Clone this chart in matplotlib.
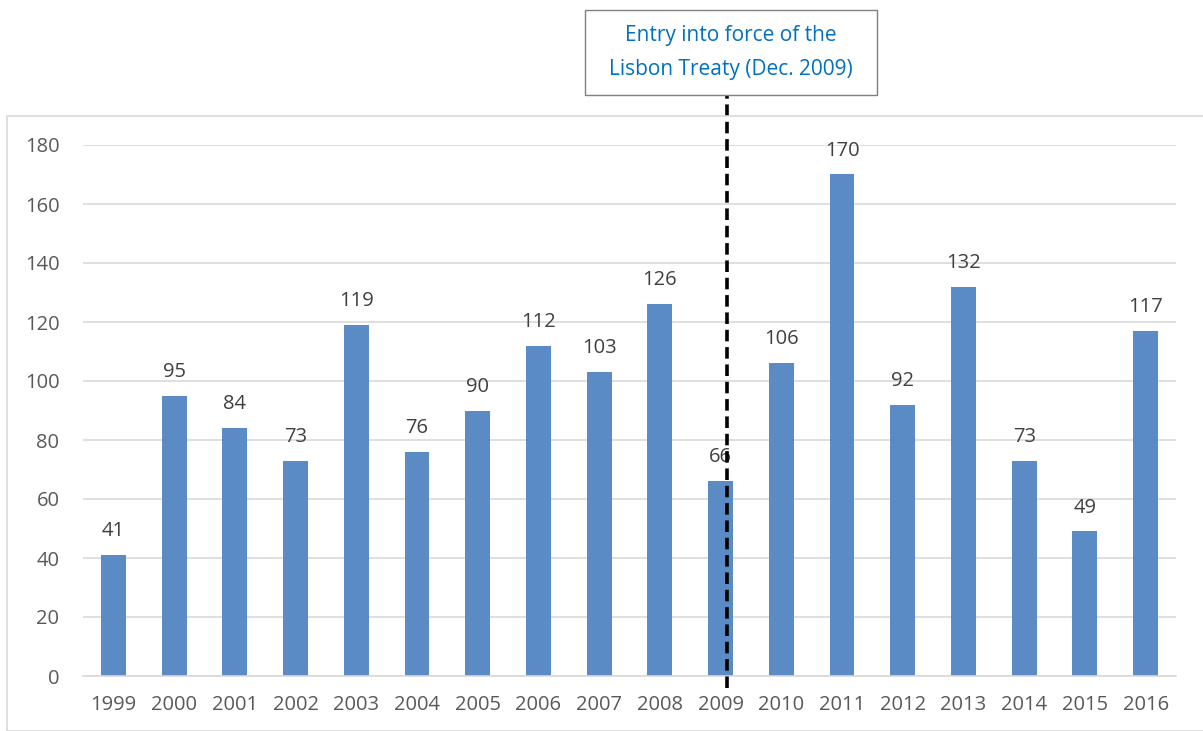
import matplotlib
matplotlib.use("Agg")
import matplotlib.pyplot as plt
from matplotlib.patches import Rectangle

years = ["1999", "2000", "2001", "2002", "2003", "2004", "2005", "2006", "2007",
         "2008", "2009", "2010", "2011", "2012", "2013", "2014", "2015", "2016"]
values = [41, 95, 84, 73, 119, 76, 90, 112, 103, 126, 66, 106, 170, 92, 132, 73, 49, 117]
yticks = [0, 20, 40, 60, 80, 100, 120, 140, 160, 180]
annotation = "Entry into force of the\nLisbon Treaty (Dec. 2009)"
treaty_pos = 10.1

plt.rcParams['font.family'] = ['Open Sans', 'DejaVu Sans']

W, H = 1203, 731
fig = plt.figure(figsize=(W / 100, H / 100), dpi=100)

# outer chart frame
fig.add_artist(Rectangle((7 / W, 0), 1.2, 1 - 116 / H, transform=fig.transFigure,
                         fill=False, edgecolor="#D9D9D9", linewidth=1.2))

ax = fig.add_axes([83 / W, 1 - 676 / H, (1176 - 83) / W, (676 - 145) / H])
x = range(len(years))
ax.bar(x, values, width=0.41, color="#5B8BC5", zorder=2)
ax.set_xlim(-0.5, len(years) - 0.5)
ax.set_ylim(0, 180)
ax.set_yticks(yticks)
ax.set_xticks(list(x))
ax.set_xticklabels(years)
ax.grid(axis="y", color="#D9D9D9", linewidth=1.2, zorder=0)
for s in ["top", "right", "left"]:
    ax.spines[s].set_visible(False)
ax.spines["bottom"].set_color("#D9D9D9")
ax.spines["bottom"].set_linewidth(1.2)
ax.tick_params(axis="both", length=0, labelsize=14.5, colors="#595959")
ax.tick_params(axis="y", pad=17)
ax.tick_params(axis="x", pad=14)

for xi, v in zip(x, values):
    ax.annotate(str(v), (xi, v), xytext=(0, 10), textcoords="offset points",
                ha="center", va="bottom", fontsize=14.5, color="#404040", zorder=3)

ax.plot([treaty_pos, treaty_pos], [-4.1, 196.6], color="black", linestyle=(0, (3.2, 1.6)),
        linewidth=2.6, clip_on=False, zorder=4)

# annotation box
fig.add_artist(Rectangle((585 / W, 1 - 95 / H), (877 - 585) / W, (95 - 10) / H,
                         transform=fig.transFigure, facecolor="white",
                         edgecolor="#7F7F7F", linewidth=1.0))
fig.text(731 / W, 1 - 52.5 / H, annotation, ha="center", va="center",
         fontsize=15, color="#0070C0", linespacing=1.75)

fig.savefig("out.png", dpi=100)
